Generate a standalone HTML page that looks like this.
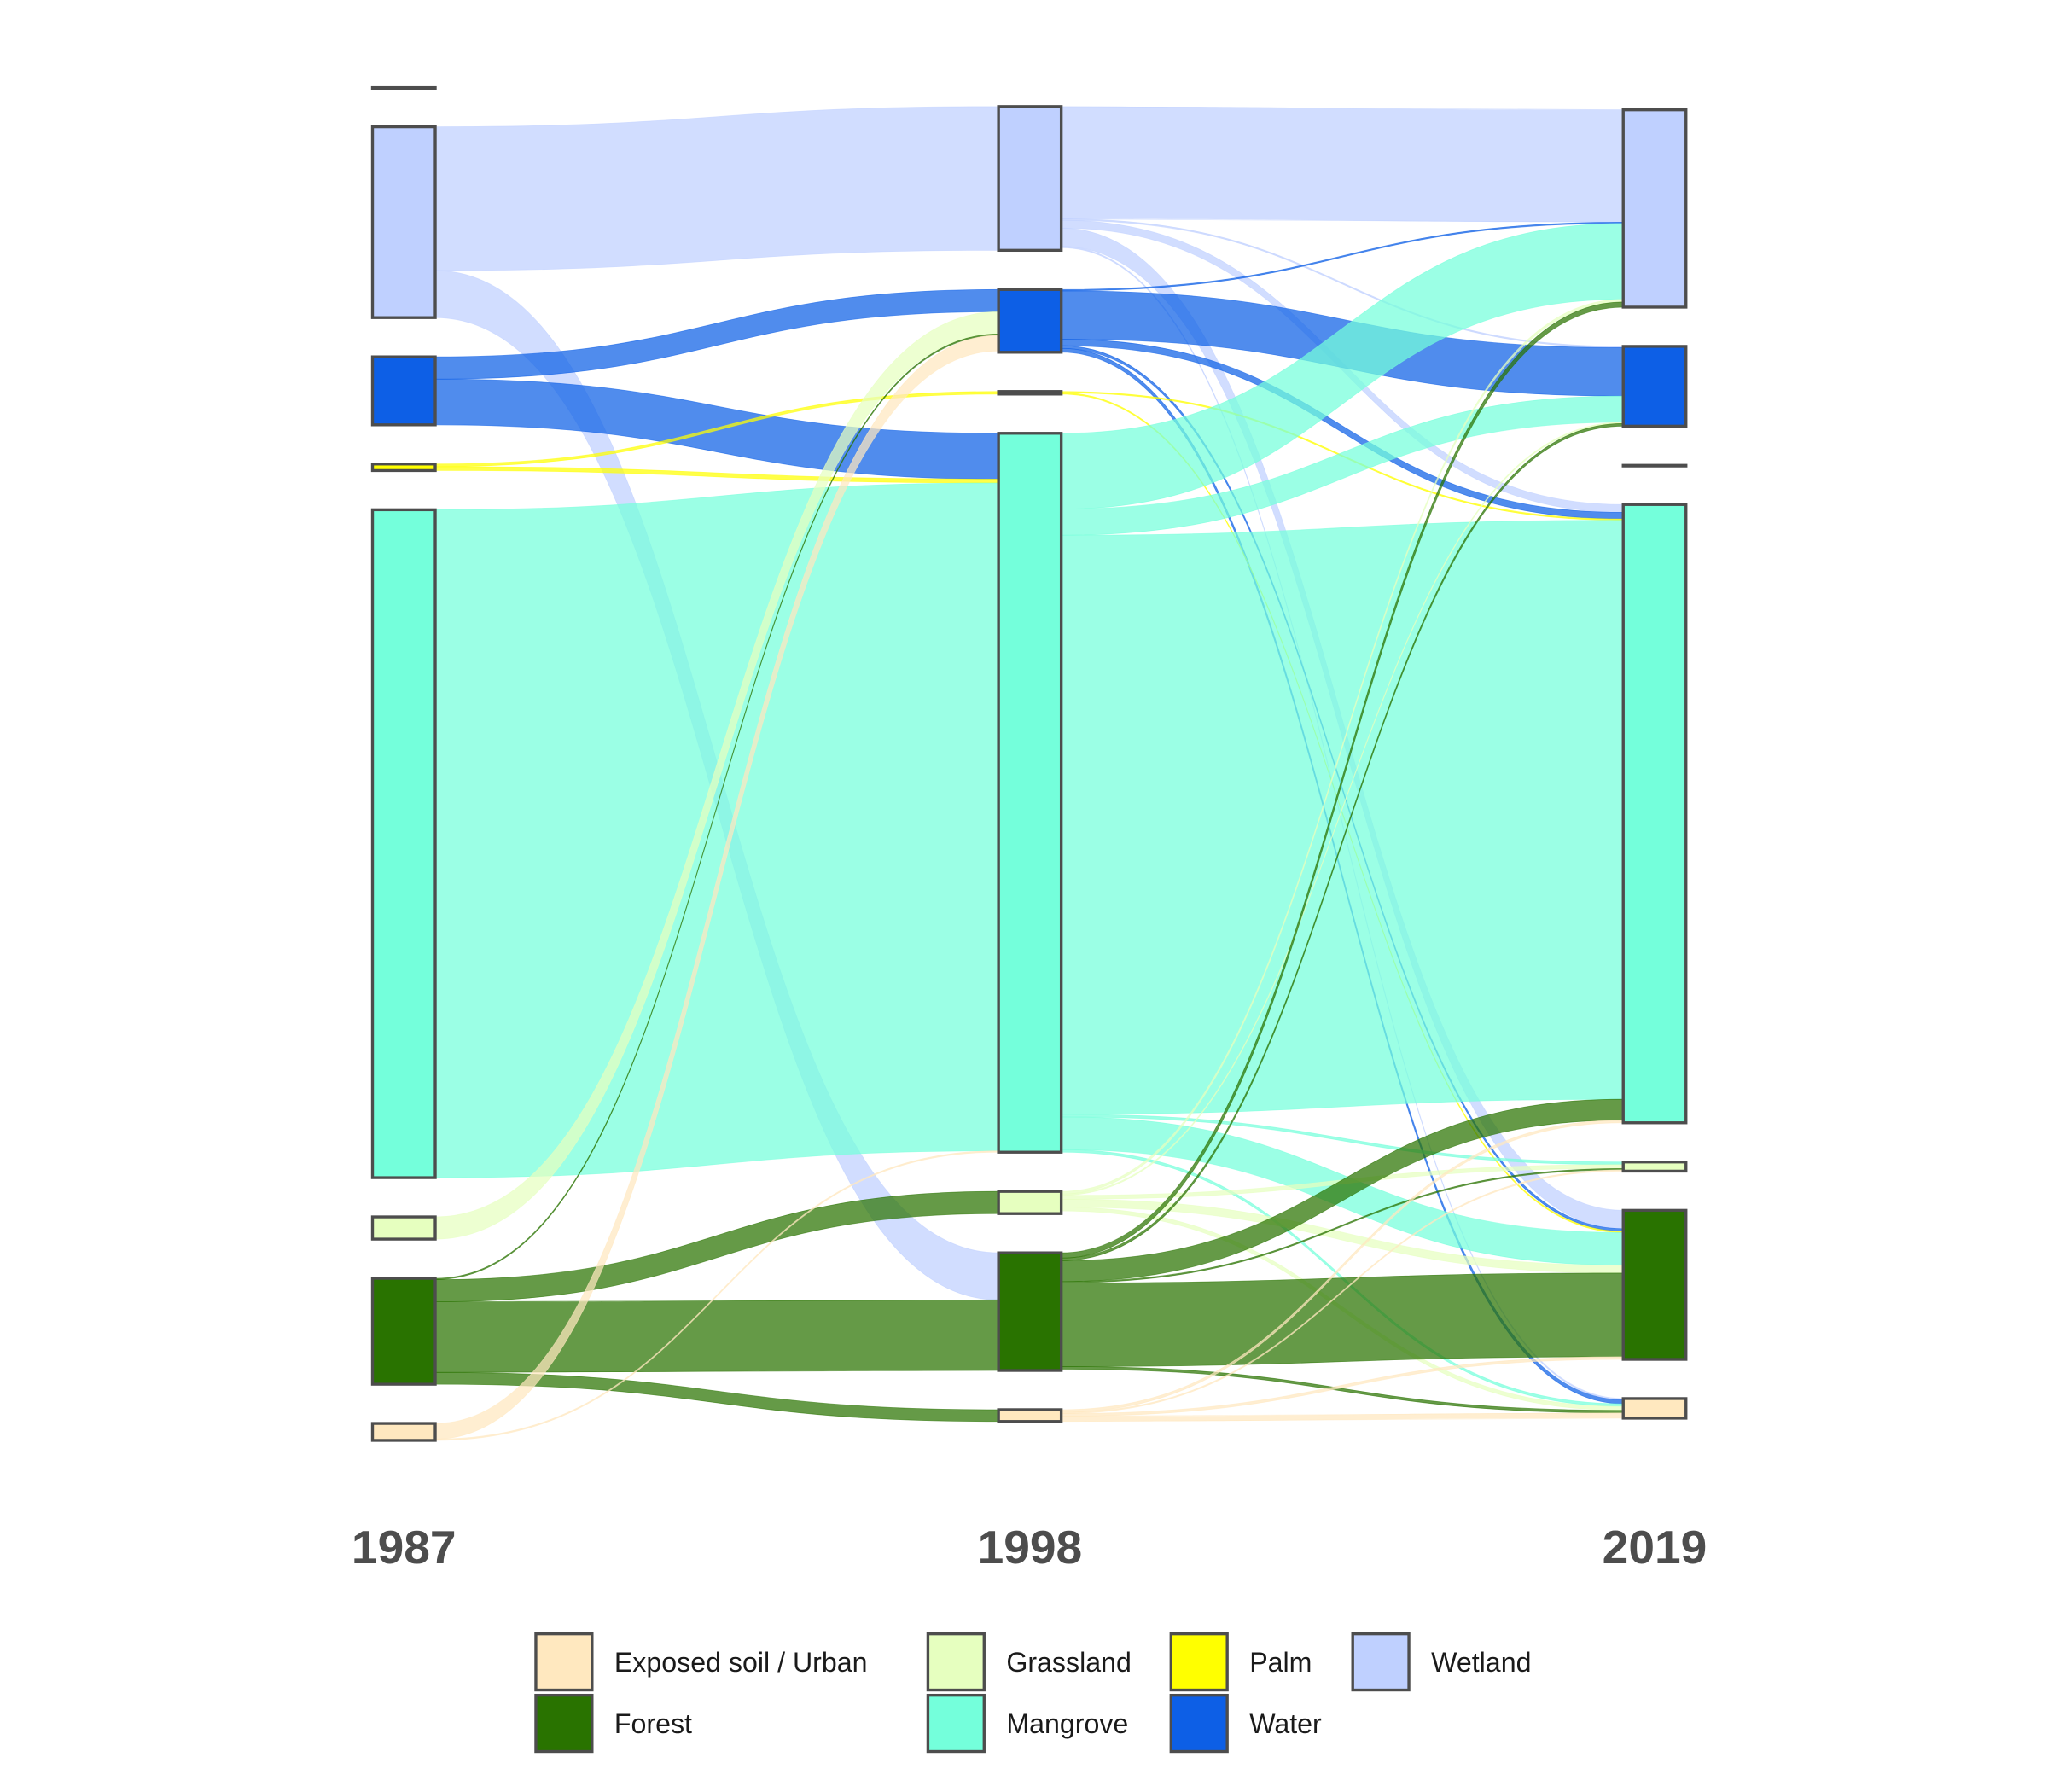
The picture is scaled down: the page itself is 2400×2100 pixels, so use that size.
<!DOCTYPE html>
<html><head><meta charset="utf-8">
<style>
html,body{margin:0;padding:0;background:#fff;}
svg{display:block;font-family:"Liberation Sans",Arial,sans-serif;}
</style></head>
<body>
<svg id="chart" width="2400" height="2100" viewBox="0 0 1567 1371" preserveAspectRatio="none" xmlns="http://www.w3.org/2000/svg">
<g id="flows"></g>
<g id="nodes"></g>
<g id="axis"></g>
<g id="legend"></g>
</svg>
<script>
const years = ["1987","1998","2019"];
const categories = ["NA","Wetland","Water","Palm","Mangrove","Grassland","Forest","Exposed soil / Urban"];
const catColors = ["#ffffff","#BFD0FF","#0D5FE6","#FFFF00","#74FFDB","#E6FFBF","#297300","#FFE8BF"];
const presentIn = [[1,1,1,1,1,1,1,1],[0,1,1,1,1,1,1,1],[0,1,1,1,1,1,1,1]];
// flows: stage 1987->1998 [source, target, value]
const flows1 = [
 ["Wetland","Wetland",110],["Wetland","Forest",36],
 ["Water","Water",17],["Water","Mangrove",35],
 ["Palm","Palm",2],["Palm","Mangrove",3],
 ["Mangrove","Mangrove",511],
 ["Grassland","Water",17],
 ["Forest","Water",1],["Forest","Grassland",17],["Forest","Forest",54],["Forest","Exposed soil / Urban",9],
 ["Exposed soil / Urban","Water",12],["Exposed soil / Urban","Mangrove",1]
];
// stage 1998->2019
const flows2 = [
 ["Wetland","Wetland",86],["Wetland","Water",1],["Wetland","Mangrove",6],["Wetland","Forest",14],["Wetland","Exposed soil / Urban",1],
 ["Water","Wetland",1],["Water","Water",37],["Water","Mangrove",5],["Water","Forest",2],["Water","Exposed soil / Urban",3],
 ["Palm","Mangrove",1],["Palm","Forest",1],
 ["Mangrove","Wetland",58],["Mangrove","Water",20],["Mangrove","Mangrove",443],["Mangrove","Grassland",2],["Mangrove","Forest",25],["Mangrove","Exposed soil / Urban",2],
 ["Grassland","Wetland",2],["Grassland","Water",1],["Grassland","Grassland",3],["Grassland","Forest",6],["Grassland","Exposed soil / Urban",3],
 ["Forest","Wetland",4],["Forest","Water",2],["Forest","Mangrove",16],["Forest","Grassland",1],["Forest","Forest",64],["Forest","Exposed soil / Urban",2],
 ["Exposed soil / Urban","Mangrove",2],["Exposed soil / Urban","Grassland",1],["Exposed soil / Urban","Forest",2],["Exposed soil / Urban","Exposed soil / Urban",4]
];
const legendOrder = ["Exposed soil / Urban","Forest","Grassland","Mangrove","Palm","Water","Wetland"];

const NS="http://www.w3.org/2000/svg";
const colX=[285,764,1242], nodeW=48, gap=30, centerY=584.5;
function mk(tag,attrs,parent){const e=document.createElementNS(NS,tag);for(const k in attrs)e.setAttribute(k,attrs[k]);parent.appendChild(e);return e;}
const stages=[flows1,flows2];
const vals=years.map(()=>categories.map(()=>0));
categories.forEach((c,i)=>{
  let o=flows1.filter(f=>f[0]===c).reduce((a,f)=>a+f[2],0);
  vals[0][i]=o;
  let in1=flows1.filter(f=>f[1]===c).reduce((a,f)=>a+f[2],0);
  let o2=flows2.filter(f=>f[0]===c).reduce((a,f)=>a+f[2],0);
  vals[1][i]=Math.max(in1,o2);
  vals[2][i]=flows2.filter(f=>f[1]===c).reduce((a,f)=>a+f[2],0);
});
const nodeY=years.map((y,col)=>{
  const idx=categories.map((c,i)=>i).filter(i=>presentIn[col][i]);
  const total=idx.reduce((a,i)=>a+vals[col][i],0)+gap*(idx.length-1);
  let y0=centerY-total/2; const pos={};
  idx.forEach(i=>{pos[i]=y0;y0+=vals[col][i]+gap;});
  return pos;
});
const flowG=document.getElementById('flows');
stages.forEach((fl,s)=>{
  const outOff={},inOff={};
  const ci=c=>categories.indexOf(c);
  const outs=fl.slice().sort((a,b)=>ci(a[0])-ci(b[0])||ci(a[1])-ci(b[1]));
  const srcY=new Map(),tgtY=new Map();
  outs.forEach(f=>{const i=ci(f[0]);outOff[i]=outOff[i]||0;srcY.set(f,nodeY[s][i]+outOff[i]);outOff[i]+=f[2];});
  const ins=fl.slice().sort((a,b)=>ci(a[1])-ci(b[1])||ci(a[0])-ci(b[0]));
  ins.forEach(f=>{const i=ci(f[1]);inOff[i]=inOff[i]||0;tgtY.set(f,nodeY[s+1][i]+inOff[i]);inOff[i]+=f[2];});
  fl.forEach(f=>{
    const x1=colX[s]+nodeW,x2=colX[s+1],y1=srcY.get(f),y2=tgtY.get(f),w=f[2],mx=(x1+x2)/2;
    const d=`M${x1},${y1} C${mx},${y1} ${mx},${y2} ${x2},${y2} L${x2},${y2+w} C${mx},${y2+w} ${mx},${y1+w} ${x1},${y1+w} Z`;
    const col=catColors[ci(f[0])];
    const p=mk('path',{d:d,fill:col,'fill-opacity':0.72,stroke:col,'stroke-opacity':0.6,'stroke-width':0.5},flowG);
    
    
  });
});
const nodeG=document.getElementById('nodes');
years.forEach((y,col)=>{
  Object.keys(nodeY[col]).forEach(k=>{
    const i=+k,h=vals[col][i];
    const r=mk('rect',{x:colX[col],y:nodeY[col][i],width:nodeW,height:Math.max(h,0.5),fill:catColors[i],stroke:'#4d4d4d','stroke-width':2.2},nodeG);
    
    
  });
  const t=mk('text',{x:colX[col]+nodeW/2,y:1196,'text-anchor':'middle','font-size':36,'font-weight':'bold',fill:'#4d4d4d'},document.getElementById('axis'));
  t.textContent=y;
  
  
});
const lg=document.getElementById('legend');
const lx=[410,410,710,710,896,896,1035],ly=[1250,1297,1250,1297,1250,1297,1250];
legendOrder.forEach((c,k)=>{
  const i=categories.indexOf(c);
  const g=mk('g',{},lg);
  
  
  mk('rect',{x:lx[k],y:ly[k],width:43,height:43,fill:catColors[i],stroke:'#4d4d4d','stroke-width':2.2},g);
  const t=mk('text',{x:lx[k]+60,y:ly[k]+29,'font-size':21,fill:'#1a1a1a'},g);
  t.textContent=c;
});
</script>
</body></html>
